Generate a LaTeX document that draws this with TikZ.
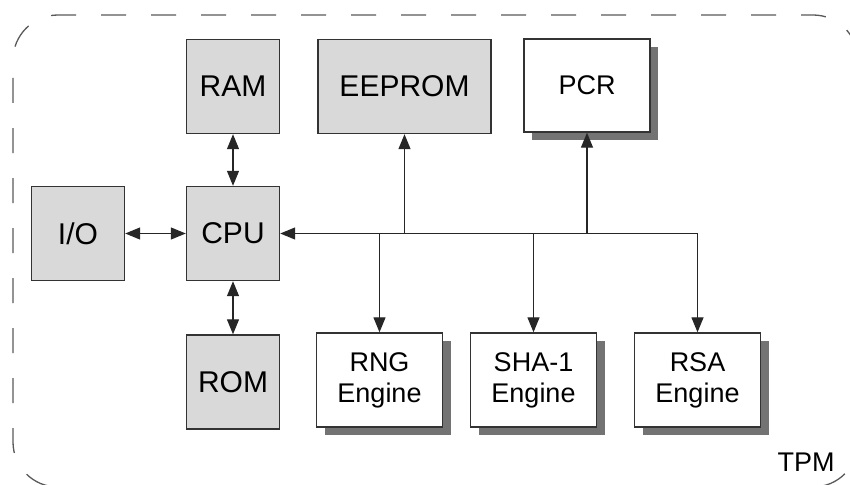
\documentclass[tikz,border=0pt]{standalone}
\usepackage{fontspec}
\setmainfont{Liberation Sans}
\usetikzlibrary{calc,shapes,shadows,arrows.meta}

\begin{document}
\begin{tikzpicture}[x=1pt,y=-1pt,
	gbox/.style={rectangle, draw=black!80, line width=1.4pt, fill=black!15, minimum width=93pt, minimum height=94pt, inner sep=0, font=\fontsize{30}{34}\selectfont},
	wbox/.style={rectangle, draw=black!80, line width=1.4pt, fill=white, minimum width=126pt, minimum height=94pt, inner sep=0, align=center, font=\fontsize{27}{31}\selectfont, drop shadow={shadow xshift=8pt, shadow yshift=-8pt, fill=black!55, opacity=1}},
	frame/.style={draw=black!65, line width=1.3pt, dash pattern=on 25pt off 25pt, dash phase=32pt, rounded corners=45pt},
	link/.style={line width=1.3pt, draw=black!85, {Triangle[length=15pt,width=12pt]}-{Triangle[length=15pt,width=12pt]}},
	blink/.style={line width=1.3pt, draw=black!85, -{Triangle[length=15pt,width=12pt]}}]

		\useasboundingbox (0,0) rectangle (850,484);
		%tpm boundary
		\draw[frame] (13,15) rectangle (858,487);
		\node[font=\fontsize{27}{31}\selectfont, inner sep=0] (tpm) at (806,462) {TPM};
		
		%core
		\node[gbox] at (233,233.5) (cpu) {CPU};
		\node[gbox] at (233,86.5) (ram) {RAM};
		\node[gbox] at (233,382) (rom) {ROM};
		\node[gbox] at (78,233.5) (io) {I/O};
		\node[gbox,minimum width=173pt] at (404.5,86.5) (eeprom) {EEPROM};
		\node[wbox,minimum height=93pt] at (587,85.5) (pcr) {PCR};
		
		%engines
		\node[wbox] at (379.5,380) (rng) {RNG\\Engine};
		\node[wbox] at (533.5,380) (sha) {SHA-1\\Engine};
		\node[wbox] at (697.5,380) (rsa) {RSA\\Engine};
		
		\draw[link] (ram) -- (cpu);
		\draw[link] (io) -- (cpu);
		\draw[link] (cpu) -- (rom);
		
		%bus
		\coordinate (busend) at (rsa.north |- cpu.east);
		\draw[blink] (busend) -- (cpu.east);
		\foreach \n in {eeprom,pcr} {
			\draw[blink] (\n.south |- cpu.east) -- (\n.south);
		}
		\foreach \n in {rng,sha,rsa} {
			\draw[blink] (\n.north |- cpu.east) -- (\n.north);
		}
	\end{tikzpicture}
\end{document}
